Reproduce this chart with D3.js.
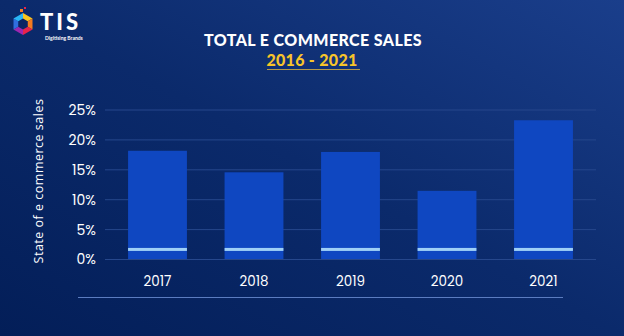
<!DOCTYPE html>
<html><head><meta charset="utf-8">
<script src="https://cdn.jsdelivr.net/npm/d3@7"></script>
<style>html,body{margin:0;padding:0;overflow:hidden;background:#0a2463}</style>
</head><body><svg id="c" width="624" height="336"></svg>
<script>
const years = ["2017","2018","2019","2020","2021"];
const sales = [18.1, 14.5, 17.9, 11.4, 23.2];
const markerLevel = [1.6, 1.6, 1.6, 1.6, 1.6];
const yTicks = [0, 5, 10, 15, 20, 25];
const title = "TOTAL E COMMERCE SALES";
const subtitle = "2016 - 2021";
const yTitle = "State of e commerce sales";

const svg = d3.select("#c");
const W = 624, H = 336;
const defs = svg.append("defs");
const g1 = defs.append("linearGradient").attr("id","bg").attr("x1","0").attr("y1","1").attr("x2","1").attr("y2","0");
g1.append("stop").attr("offset","0").attr("stop-color","#031e58");
g1.append("stop").attr("offset","0.5").attr("stop-color","#0b2a6b");
g1.append("stop").attr("offset","1").attr("stop-color","#1a3e8b");
svg.append("rect").attr("width",W).attr("height",H).attr("fill","url(#bg)");

// logo
const hex = svg.append("g").attr("transform","translate(23,24)");
const cols = ["#f7c51e","#f47b20","#e8234a","#9c27b0","#2f6fe0","#29b6f6"];
for(let i=0;i<6;i++){
  const a0 = (i*60-90)*Math.PI/180, a1=((i+1)*60-90)*Math.PI/180, r=11;
  hex.append("path").attr("d",`M0,0L${r*Math.cos(a0)},${r*Math.sin(a0)}L${r*Math.cos(a1)},${r*Math.sin(a1)}Z`).attr("fill",cols[i]);
}
hex.append("path").attr("d",d3.range(6).map((i)=>{const a=(i*60-90)*Math.PI/180;return (i?"L":"M")+5.5*Math.cos(a)+","+5.5*Math.sin(a);}).join("")+"Z").attr("fill","#0a2463");
hex.append("rect").attr("x",-3).attr("y",-15).attr("width",3).attr("height",3).attr("fill","#f47b20");
hex.append("rect").attr("x",1).attr("y",-17).attr("width",2).attr("height",2).attr("fill","#e8234a");
svg.append("text").attr("x",40).attr("y",30).attr("fill","#fff").attr("font-family","Lato, sans-serif").attr("font-weight",900).attr("font-size",22).attr("letter-spacing",3).text("TIS");
svg.append("text").attr("x",45).attr("y",40).attr("fill","#fff").attr("font-family","Lato, sans-serif").attr("font-weight",700).attr("font-size",5).text("Digitising Brands");

// titles
svg.append("text").attr("x",313).attr("y",46).attr("text-anchor","middle").attr("fill","#fff")
  .attr("font-family","Lato, sans-serif").attr("font-weight",900).attr("font-size",16).attr("letter-spacing",0.4).text(title);
svg.append("text").attr("x",312).attr("y",66).attr("text-anchor","middle").attr("fill","#f7c42a")
  .attr("font-family","Lato, sans-serif").attr("font-weight",900).attr("font-size",16).attr("letter-spacing",0.3).text(subtitle);
svg.append("line").attr("x1",267).attr("x2",360).attr("y1",69.5).attr("y2",69.5).attr("stroke","#b59a4a").attr("stroke-width",1.2);

// scales
const x = d3.scaleBand().domain(years).range([109.25,591.75]).paddingInner(0.39).paddingOuter(0.195);
const y = d3.scaleLinear().domain([0,25]).range([259,109.5]);

// grid
svg.append("g").selectAll("line").data(yTicks).join("line")
  .attr("x1",105).attr("x2",596).attr("y1",d=>y(d)+0.5).attr("y2",d=>y(d)+0.5)
  .attr("stroke","#26478c").attr("stroke-width",1);

// y axis labels
const ya = svg.append("g").attr("transform","translate(96,0)")
  .call(d3.axisLeft(y).tickValues(yTicks).tickFormat(d=>d+"%").tickSize(0).tickPadding(0));
ya.select(".domain").remove();
ya.selectAll("text").attr("fill","#fff").attr("font-family","Poppins, 'Open Sans', sans-serif").attr("font-size",14).attr("dy","0.35em");

svg.append("text").attr("transform","translate(43,181) rotate(-90)").attr("text-anchor","middle")
  .attr("fill","#fff").attr("font-family","'Open Sans', sans-serif").attr("font-size",12.5).attr("letter-spacing",0.5).text(yTitle);

// bars
svg.append("g").selectAll("rect").data(sales).join("rect")
  .attr("x",(d,i)=>x(years[i])).attr("width",x.bandwidth())
  .attr("y",d=>y(d)).attr("height",d=>y(0)-y(d)).attr("fill","#0f47c1");
svg.append("g").selectAll("rect").data(markerLevel).join("rect")
  .attr("x",(d,i)=>x(years[i])).attr("width",x.bandwidth())
  .attr("y",d=>y(d)-1.5).attr("height",3).attr("fill","#9fd0f7");

// x axis
const xa = svg.append("g").attr("transform","translate(0,276)")
  .call(d3.axisBottom(x).tickSize(0).tickPadding(0));
xa.select(".domain").remove();
xa.selectAll("text").attr("fill","#fff").attr("font-family","Poppins, 'Open Sans', sans-serif").attr("font-size",13.5).attr("dy","0.71em");

svg.append("line").attr("x1",78).attr("x2",563).attr("y1",297.5).attr("y2",297.5).attr("stroke","#5b7cc0").attr("stroke-width",1.2);
</script></body></html>
